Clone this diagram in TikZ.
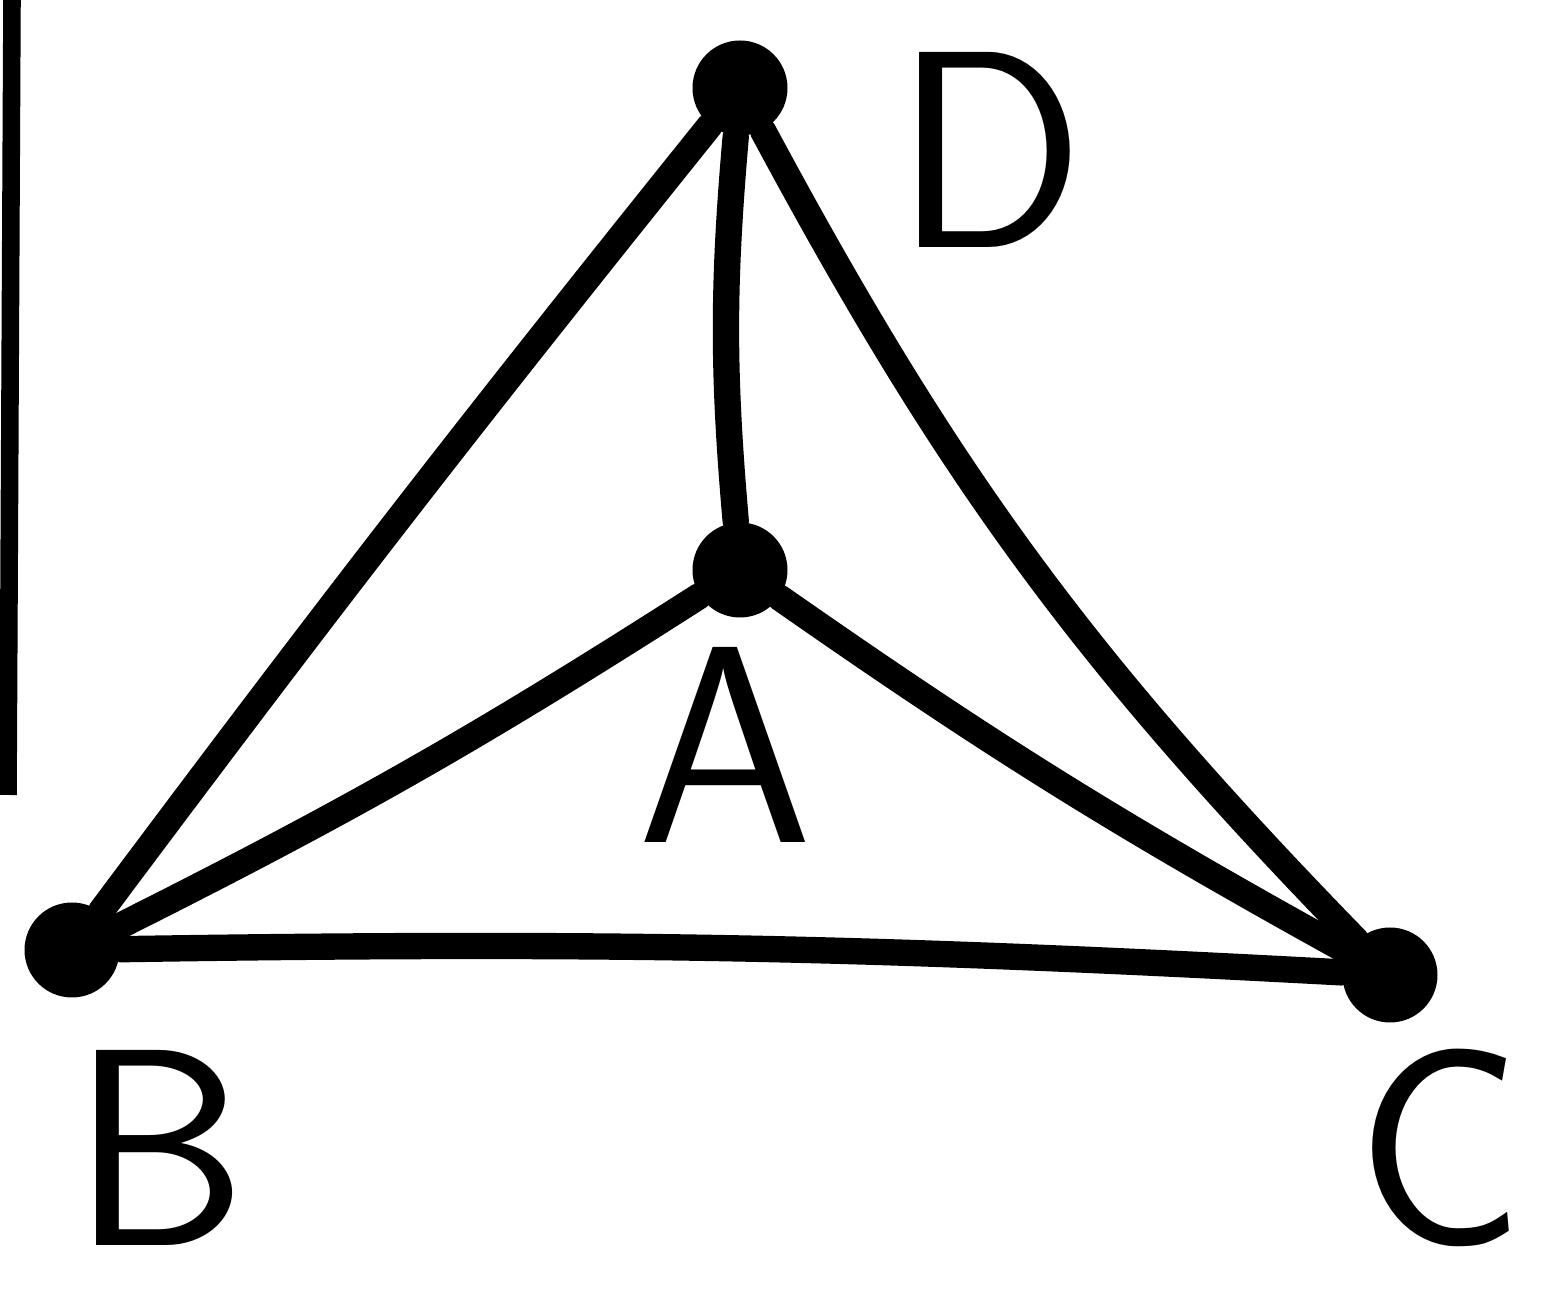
\documentclass[tikz,border=0pt]{standalone}
\usepackage{tikz}
\usetikzlibrary{positioning, calc}

\begin{document}
\begin{tikzpicture}[
    vertex/.style={circle, fill=black, inner sep=0pt, minimum size=0.95cm},
    edge/.style={line width=7.5pt, line cap=round},
    letter/.style={inner sep=0pt, font=\fontsize{80}{80}\selectfont\sffamily}
]
    \useasboundingbox (0,0) rectangle (15.66,12.90);

    % Vertices
    \node[vertex] (D) at (7.40,12.02) {};
    \node[vertex] (A) at (7.40,7.20) {};
    \node[vertex] (B) at (0.72,3.40) {};
    \node[vertex] (C) at (13.90,3.15) {};

    % Edges
    \draw[edge] (D) to[bend right=1] (B);
    \draw[edge] (D) to[bend right=5] (A);
    \draw[edge] (D) to[bend right=8] (C);
    \draw[edge] (A) to[bend left=3] (B);
    \draw[edge] (A) to[bend right=3] (C);
    \draw[edge] (B) to[bend left=2] (C);

    % Labels
    \node[letter] (labD) at (9.90,11.40) {D};
    \node[letter] (labA) at (7.25,5.45) {A};
    \node[letter] (labB) at (1.60,1.42) {B};
    \node[letter] (labC) at (14.40,1.42) {C};

    % Mark on the left edge
    \draw[line width=5pt] (0.12,12.90) -- (0.08,4.95);
\end{tikzpicture}
\end{document}
